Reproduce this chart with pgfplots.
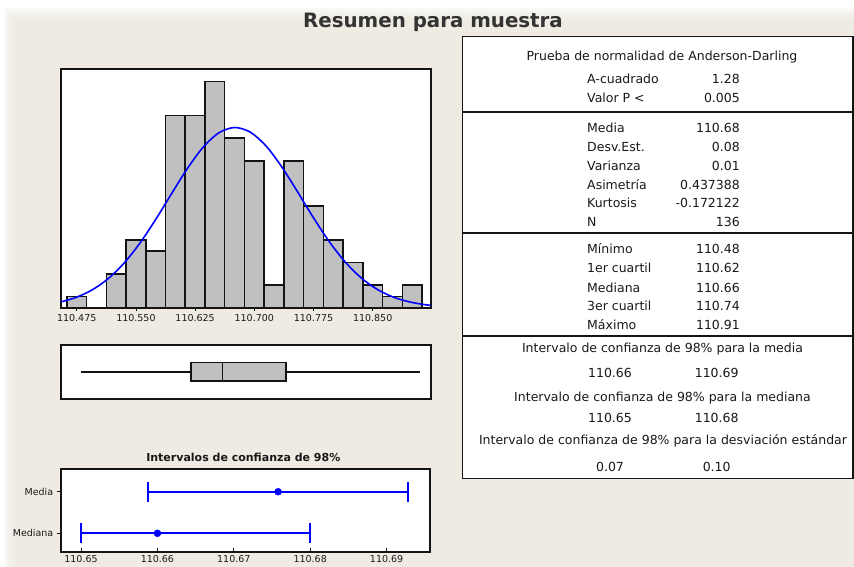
\documentclass[border=0pt]{standalone}
\usepackage{fontspec}
\setmainfont{DejaVu Sans}
\usepackage{pgfplots}
\pgfplotsset{compat=1.18}
\usepgfplotslibrary{statistics}
\definecolor{bgbeige}{RGB}{239,235,226}
\definecolor{bargray}{RGB}{192,192,192}
\definecolor{txt}{RGB}{25,25,25}
\definecolor{frame}{RGB}{20,20,20}

\pgfplotsset{
  panel/.style={
    anchor=south west, scale only axis,
    axis background/.style={fill=white},
    axis line style={line width=1.8pt, frame},
    tick style={frame, line width=0.8pt},
    tick label style={font=\fontsize{9.5}{11}\selectfont, text=txt},
    /pgf/number format/assume math mode=true,
  },
}

\begin{document}
\begin{tikzpicture}
\path[use as bounding box] (0,0) rectangle (854pt,567pt);
\clip (0,0) rectangle (854pt,567pt);
\fill[white] (0,0) rectangle (854pt,567pt);
% beige window with soft edges
\foreach \i in {0,...,13}{
  \fill[bgbeige, opacity=0.25] ({4pt+2pt*\i},{-5pt+1pt*\i}) rectangle ({862pt-1pt*\i},{559pt-2pt*\i});
}

\node[font=\bfseries\fontsize{19.8}{23}\selectfont, text=black!80] at (433pt,545pt) {Resumen para muestra};

% histogram with fitted normal curve
\begin{axis}[panel, at={(60.7pt,259.3pt)}, width=370pt, height=238.4pt,
  xmin=110.4547, xmax=110.9235, ymin=0, ymax=21.1,
  ytick=\empty, xtick={110.475,110.55,110.625,110.7,110.775,110.85},
  xticklabel style={/pgf/number format/fixed, /pgf/number format/fixed zerofill, /pgf/number format/precision=3},
  xtick align=outside, xtick pos=bottom, major tick length=3pt]
\addplot[ybar interval, fill=bargray, draw=frame, line width=1.5pt] coordinates {
  (110.4625,1) (110.4875,0) (110.5125,3) (110.5375,6) (110.5625,5) (110.5875,17)
  (110.6125,17) (110.6375,20) (110.6625,15) (110.6875,13) (110.7125,2) (110.7375,13)
  (110.7625,9) (110.7875,6) (110.8125,4) (110.8375,2) (110.8625,1) (110.8875,2) (110.9125,0)};
\addplot[blue, line width=1.6pt, smooth] coordinates {
  (110.455,0.514) (110.475,0.931) (110.495,1.594) (110.515,2.580) (110.535,3.948)
  (110.555,5.707) (110.575,7.800) (110.595,10.075) (110.615,12.298) (110.635,14.190)
  (110.655,15.473) (110.675,15.948) (110.695,15.534) (110.715,14.303) (110.735,12.445)
  (110.755,10.236) (110.775,7.956) (110.795,5.845) (110.815,4.059) (110.835,2.663)
  (110.855,1.651) (110.875,0.968) (110.895,0.537) (110.915,0.281) (110.925,0.199)};
\end{axis}

% boxplot
\begin{axis}[panel, at={(60.7pt,168pt)}, width=370pt, height=54.3pt,
  xmin=110.4547, xmax=110.9235, ymin=0, ymax=2, ticks=none]
\addplot[fill=bargray, draw=frame, line width=1.5pt,
  boxplot prepared={lower whisker=110.48, lower quartile=110.62, median=110.66,
    upper quartile=110.74, upper whisker=110.91,
    draw direction=x, draw position=1, box extend=0.69, whisker extend=0}] coordinates {};
\end{axis}

% confidence intervals
\node[font=\bfseries\fontsize{11}{13}\selectfont, text=txt] at (243.3pt,109.7pt) {Intervalos de confianza de 98\%};
\begin{axis}[panel, at={(60.7pt,15pt)}, width=369.3pt, height=82.7pt,
  xmin=110.64734, xmax=110.69568, ymin=0.55, ymax=2.54,
  ytick={1,2}, yticklabels={Mediana,Media},
  xtick={110.65,110.66,110.67,110.68,110.69},
  xticklabel style={/pgf/number format/fixed, /pgf/number format/precision=2},
  ytick align=outside, xtick align=inside, tick pos=left, major tick length=4pt]
\addplot[blue, only marks, mark=*, mark size=3.5pt,
  error bars/.cd, x dir=both, x explicit, error mark=|,
  error bar style={line width=1.6pt, blue},
  error mark options={line width=1.6pt, mark size=10pt, blue}] coordinates {
  (110.6758,2) += (0.0170,0) -= (0.0170,0)
  (110.6600,1) += (0.0200,0) -= (0.0100,0)};
\end{axis}

% statistics table
\begin{scope}[line width=1.6pt, frame]
\draw[fill=white] (462.5pt,88.5pt) rectangle (853pt,530.5pt);
\draw (462.5pt,454.7pt) -- (853pt,454.7pt);
\draw (462.5pt,333.7pt) -- (853pt,333.7pt);
\draw (462.5pt,231.2pt) -- (853pt,231.2pt);
\end{scope}
\begin{scope}[every node/.style={font=\fontsize{12.5}{14}\selectfont, text=txt, inner sep=0pt},
  L/.style={anchor=mid west}, R/.style={anchor=mid east}, C/.style={anchor=mid}]
\node[C] at (662pt,509.3pt) {Prueba de normalidad de Anderson-Darling};
\node[L] at (587pt,486.3pt) {A-cuadrado};   \node[R] at (740pt,486.3pt) {1.28};
\node[L] at (587pt,467pt) {Valor P <};      \node[R] at (740pt,467pt) {0.005};
\node[L] at (587pt,437.7pt) {Media};        \node[R] at (740pt,437.7pt) {110.68};
\node[L] at (587pt,418.7pt) {Desv.Est.};    \node[R] at (740pt,418.7pt) {0.08};
\node[L] at (587pt,399.7pt) {Varianza};     \node[R] at (740pt,399.7pt) {0.01};
\node[L] at (587pt,380.7pt) {Asimetría};    \node[R] at (740pt,380.7pt) {0.437388};
\node[L] at (587pt,361.8pt) {Kurtosis};     \node[R] at (740pt,361.8pt) {-0.172122};
\node[L] at (587pt,343pt) {N};              \node[R] at (740pt,343pt) {136};
\node[L] at (587pt,316.3pt) {Mínimo};       \node[R] at (740pt,316.3pt) {110.48};
\node[L] at (587pt,297pt) {1er cuartil};    \node[R] at (740pt,297pt) {110.62};
\node[L] at (587pt,277.7pt) {Mediana};      \node[R] at (740pt,277.7pt) {110.66};
\node[L] at (587pt,259.3pt) {3er cuartil};  \node[R] at (740pt,259.3pt) {110.74};
\node[L] at (587pt,240.3pt) {Máximo};       \node[R] at (740pt,240.3pt) {110.91};
\node[C] at (662.5pt,217.7pt) {Intervalo de confianza de 98\% para la media};
\node[C] at (610pt,192pt) {110.66};  \node[C] at (716.7pt,192pt) {110.69};
\node[C] at (662.5pt,168.7pt) {Intervalo de confianza de 98\% para la mediana};
\node[C] at (610pt,147pt) {110.65};  \node[C] at (716.7pt,147pt) {110.68};
\node[C] at (663pt,125.3pt) {Intervalo de confianza de 98\% para la desviación estándar};
\node[C] at (610pt,98.7pt) {0.07};   \node[C] at (716.7pt,98.7pt) {0.10};
\end{scope}
\end{tikzpicture}
\end{document}
